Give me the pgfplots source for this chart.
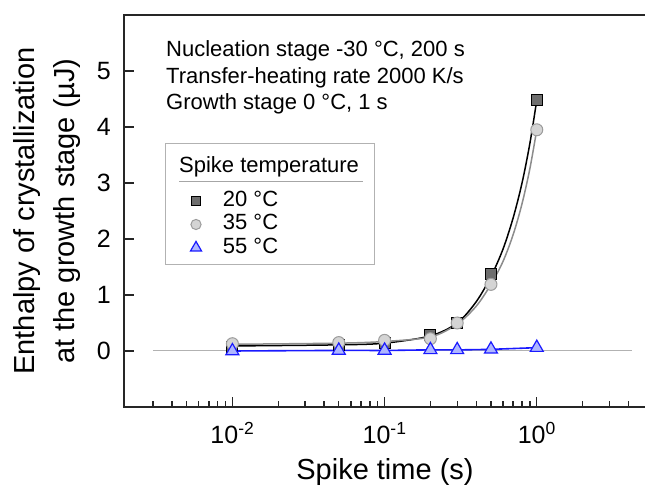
\documentclass[border=0pt]{standalone}
\usepackage{pgfplots}
\pgfplotsset{compat=1.18}
\usepackage{fontspec}
\setmainfont{Liberation Sans}
\definecolor{sqfill}{HTML}{6E6E6E}
\definecolor{cifill}{HTML}{D4D4D4}
\definecolor{ciedge}{HTML}{9C9C9C}
\definecolor{trfill}{HTML}{AEB6FF}
\definecolor{tredge}{HTML}{1A1AFF}
\begin{document}
\begin{tikzpicture}
\useasboundingbox (-124pt,-79pt) rectangle (521pt,407pt);
\begin{axis}[
  at={(0pt,0pt)}, anchor=south west,
  scale only axis, width=522pt, height=392pt,
  xmode=log, xmin=0.00194, xmax=5.22,
  ymin=-1, ymax=6,
  axis line style={line width=1.8pt, draw=black!85},
  tick align=inside,
  xtick pos=bottom, ytick pos=left,
  major tick length=10pt, minor tick length=6pt,
  every tick/.style={line width=1.4pt, black!85},
  xtick={0.01,0.1,1},
  minor xtick={0.003,0.004,0.005,0.006,0.007,0.008,0.009,
               0.02,0.03,0.04,0.05,0.06,0.07,0.08,0.09,
               0.2,0.3,0.4,0.5,0.6,0.7,0.8,0.9,2,3,4},
  xticklabels={10\textsuperscript{-2},10\textsuperscript{-1},10\textsuperscript{0}},
  ytick={0,1,2,3,4,5},
  yticklabels={0,1,2,3,4,5},
  xticklabel style={font=\fontsize{25}{25}\selectfont, inner sep=0pt, anchor=base, yshift=-37pt},
  yticklabel style={font=\fontsize{25}{25}\selectfont, inner sep=0pt, anchor=east, xshift=-13pt},
  xlabel={Spike time (s)},
  xlabel style={font=\fontsize{29}{29}\selectfont, at={(axis description cs:0.5,0)}, anchor=base, yshift=-73pt, inner sep=0pt},
  ylabel={Enthalpy of crystallization\\at the growth stage (\textmu J)},
  ylabel style={font=\fontsize{29}{40}\selectfont, align=center, at={(axis description cs:-0.1475,0.5)}, anchor=center, inner sep=0pt},
  clip=false,
  legend style={at={(axis description cs:0.1274,0.5518)}, anchor=north west,
    draw=none, fill=none, inner sep=0pt, outer sep=0pt,
    row sep=2.3pt, column sep=21.4pt,
    nodes={inner sep=0pt, text height=16pt, text depth=5pt},
    font=\fontsize{22}{22}\selectfont},
  legend cell align=left,
  legend image post style={scale=0.85},
]
% zero reference line
\addplot[forget plot, gray!60, line width=1pt] coordinates {(0.003,0) (4.2,0)};
% fit curves
\addplot[forget plot, black, line width=1.5pt, smooth, tension=0.5] coordinates {
 (0.01,0.09) (0.05,0.11) (0.1,0.14) (0.2,0.27) (0.3,0.50) (0.4,0.88) (0.5,1.33)
 (0.6,1.82) (0.7,2.38) (0.8,3.0) (0.9,3.7) (1,4.48)};
\addplot[forget plot, black!45, line width=1.5pt, smooth, tension=0.5] coordinates {
 (0.01,0.12) (0.05,0.14) (0.1,0.17) (0.2,0.25) (0.3,0.48) (0.4,0.80) (0.5,1.19)
 (0.6,1.6) (0.7,2.08) (0.8,2.63) (0.9,3.25) (1,3.95)};
\addplot[forget plot, tredge, line width=1.6pt, smooth] coordinates {
 (0.01,0.0) (0.05,0.01) (0.1,0.01) (0.2,0.02) (0.3,0.02) (0.5,0.03) (1,0.06)};
% markers
\addplot[only marks, mark=square*, mark size=5.5pt, mark options={fill=sqfill, draw=black, line width=1pt}] coordinates {
 (0.01,0.08) (0.05,0.11) (0.1,0.14) (0.2,0.28) (0.3,0.50) (0.5,1.37) (1,4.48)};
\addlegendentry{20 °C}
\addplot[only marks, mark=*, mark size=6pt, mark options={fill=cifill, draw=ciedge, line width=1pt}] coordinates {
 (0.01,0.13) (0.05,0.15) (0.1,0.19) (0.2,0.22) (0.3,0.50) (0.5,1.19) (1,3.95)};
\addlegendentry{35 °C}
\addplot[only marks, mark=triangle*, mark size=7.5pt, mark options={fill=trfill, draw=tredge, line width=1.2pt}] coordinates {
 (0.01,0.0) (0.05,0.01) (0.1,0.01) (0.2,0.02) (0.3,0.02) (0.5,0.03) (1,0.06)};
\addlegendentry{55 °C}
\end{axis}
% annotation text
\node[anchor=base west, inner sep=0pt, font=\fontsize{22}{22}\selectfont] at (42pt,350.3pt) {Nucleation stage -30 °C, 200 s};
\node[anchor=base west, inner sep=0pt, font=\fontsize{22}{22}\selectfont] at (42pt,323.7pt) {Transfer-heating rate 2000 K/s};
\node[anchor=base west, inner sep=0pt, font=\fontsize{22}{22}\selectfont] at (42pt,297pt) {Growth stage 0 °C, 1 s};
% legend frame and title
\draw[gray!60, line width=1pt] (41.7pt,142pt) rectangle (250pt,263pt);
\node[anchor=base west, inner sep=0pt, font=\fontsize{22}{22}\selectfont] at (55pt,234.3pt) {Spike temperature};
\draw[gray!70, line width=0.8pt] (55pt,226pt) -- (239pt,226pt);
\end{tikzpicture}
\end{document}
